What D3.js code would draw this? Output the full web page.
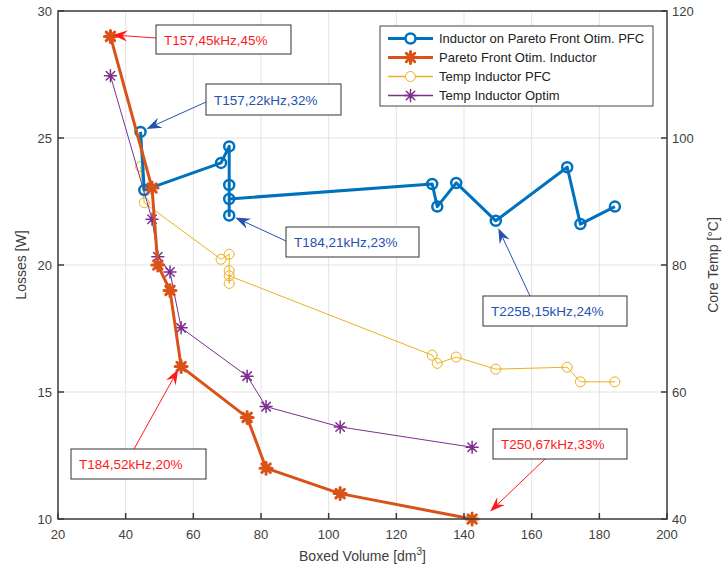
<!DOCTYPE html>
<html><head><meta charset="utf-8">
<script src="https://cdn.jsdelivr.net/npm/d3@7"></script>
<style>
html,body{margin:0;padding:0;background:#fff;}
svg text{font-family:"Liberation Sans",Arial,Helvetica,sans-serif;}
</style></head>
<body>
<svg id="chart" width="725" height="574"></svg>
<script>
// ---------- data ----------
const volumeOptim = [35.5, 47.8, 49.5, 53.1, 56.4, 75.9, 81.5, 103.4, 142.4];
const lossesOptim = [29.0, 23.03, 20.0, 19.0, 16.0, 14.0, 12.0, 11.0, 10.0];
const tempOptim   = [109.8, 87.2, 81.3, 78.9, 70.1, 62.5, 57.7, 54.5, 51.3];

const volumePFC = [44.4, 45.5, 68.2, 70.6, 70.6, 70.6, 70.6, 130.6, 132.1, 137.7, 149.4, 170.5, 174.4, 184.6];
const lossesPFC = [25.24, 22.95, 24.02, 24.67, 23.15, 21.95, 22.6, 23.19, 22.30, 23.23, 21.74, 23.85, 21.61, 22.30];
const tempPFC   = [95.5, 89.8, 80.9, 81.7, 79.1, 77.1, 78.3, 65.8, 64.5, 65.5, 63.6, 63.9, 61.6, 61.6];

const xTicks = [20, 40, 60, 80, 100, 120, 140, 160, 180, 200];
const yLeftTicks = [10, 15, 20, 25, 30];
const yRightTicks = [40, 60, 80, 100, 120];

const seriesNames = ["Inductor on Pareto Front Otim. PFC", "Pareto Front Otim. Inductor", "Temp Inductor PFC", "Temp Inductor Optim"];
const annLabels = ["T157,45kHz,45%", "T157,22kHz,32%", "T184,21kHz,23%", "T225B,15kHz,24%", "T184,52kHz,20%", "T250,67kHz,33%"];
const annSeries = ["optim", "pfc", "pfc", "pfc", "optim", "optim"];
const annIndex  = [0, 0, 5, 10, 4, 8];

// ---------- layout ----------
const L = 58, R = 667, T = 11, B = 519;
const C = {blue:"#0072BD", orange:"#D95319", yellow:"#EDB120", purple:"#7E2F8E",
           axis:"#3a3a3a", grid:"#e3e3e3", red:"#ff1a1a", annBlue:"#2552b0"};
// annotation layout (pixels): box x,y,w,h ; tail point ; tip offset from data point
const annLayout = [
  {bx:156, by:25,  bw:135, bh:29, tx:156, ty:38,  dx:2,  dy:-1.5, color:C.red},
  {bx:206, by:84,  bw:135, bh:31, tx:206, ty:102, dx:6,  dy:-3,   color:C.annBlue},
  {bx:286, by:227, bw:133, bh:30, tx:286, ty:241, dx:6,  dy:2,    color:C.annBlue},
  {bx:483, by:296, bw:144, bh:30, tx:530, ty:296, dx:2.5,dy:7.5,  color:C.annBlue},
  {bx:71,  by:449, bw:135, bh:30, tx:134, ty:449, dx:-3, dy:3,    color:C.red},
  {bx:493, by:429, bw:134, bh:30, tx:545, ty:459, dx:18, dy:-7.5, color:C.red}
];

const svg = d3.select("#chart");
const x = d3.scaleLinear().domain([20, 200]).range([L, R]);
const yL = d3.scaleLinear().domain([10, 30]).range([B, T]);
const yR = d3.scaleLinear().domain([40, 120]).range([B, T]);

// grid
const g = svg.append("g");
g.selectAll(".gx").data(xTicks.slice(1, -1)).join("line")
  .attr("x1", d => x(d)).attr("x2", d => x(d)).attr("y1", T).attr("y2", B)
  .attr("stroke", C.grid).attr("stroke-width", 1);
g.selectAll(".gy").data(yLeftTicks.slice(1, -1)).join("line")
  .attr("y1", d => yL(d)).attr("y2", d => yL(d)).attr("x1", L).attr("x2", R)
  .attr("stroke", C.grid).attr("stroke-width", 1);

// series helpers
function asterisk(r) {
  const d = r * 0.7071;
  return `M${-r},0L${r},0M0,${-r}L0,${r}M${-d},${-d}L${d},${d}M${-d},${d}L${d},${-d}`;
}
function drawSeries(xs, ys, yScale, color, lw, marker, mSize, mLw) {
  const pts = xs.map((v, i) => [x(v), yScale(ys[i])]);
  const grp = svg.append("g");
  grp.append("path").attr("d", d3.line()(pts)).attr("fill", "none")
    .attr("stroke", color).attr("stroke-width", lw).attr("stroke-linejoin", "round");
  grp.selectAll("m").data(pts).join("path")
    .attr("transform", p => `translate(${p[0]},${p[1]})`)
    .attr("d", marker === "o" ? d3.symbol(d3.symbolCircle, Math.PI * mSize * mSize)() : asterisk(mSize))
    .attr("fill", "none").attr("stroke", color).attr("stroke-width", mLw)
    .attr("stroke-linecap", "round");
}
drawSeries(volumePFC, tempPFC, yR, C.yellow, 1, "o", 5, 1);
drawSeries(volumeOptim, tempOptim, yR, C.purple, 1, "*", 6, 1.5);
drawSeries(volumePFC, lossesPFC, yL, C.blue, 3, "o", 5, 2.5);
drawSeries(volumeOptim, lossesOptim, yL, C.orange, 3, "*", 6, 3);

// axes box
const ax = svg.append("g").attr("stroke", C.axis).attr("stroke-width", 1.5).attr("fill", "none");
ax.append("rect").attr("x", L).attr("y", T).attr("width", R - L).attr("height", B - T);
const tl = 6;
ax.selectAll(".tx").data(xTicks).join("line")
  .attr("x1", d => x(d)).attr("x2", d => x(d)).attr("y1", B).attr("y2", B - tl);
ax.selectAll(".ty").data(yLeftTicks).join("line")
  .attr("y1", d => yL(d)).attr("y2", d => yL(d)).attr("x1", L).attr("x2", L + tl);
ax.selectAll(".tr").data(yRightTicks).join("line")
  .attr("y1", d => yR(d)).attr("y2", d => yR(d)).attr("x1", R).attr("x2", R - tl);

const lab = svg.append("g").attr("fill", "#404040").attr("font-size", 13);
lab.selectAll(".lx").data(xTicks).join("text")
  .attr("x", d => x(d)).attr("y", B + 20).attr("text-anchor", "middle").text(d => d);
lab.selectAll(".ly").data(yLeftTicks).join("text")
  .attr("x", L - 6).attr("y", d => yL(d) + 4.5).attr("text-anchor", "end").text(d => d);
lab.selectAll(".lr").data(yRightTicks).join("text")
  .attr("x", R + 5).attr("y", d => yR(d) + 4.5).attr("text-anchor", "start").text(d => d);

const xl = lab.append("text").attr("x", (L + R) / 2).attr("y", 561).attr("text-anchor", "middle").attr("font-size", 14);
xl.append("tspan").text("Boxed Volume [dm");
xl.append("tspan").attr("dy", -6).attr("font-size", 10).text("3");
xl.append("tspan").attr("dy", 6).text("]");
lab.append("text").attr("transform", `translate(26,${(T + B) / 2}) rotate(-90)`)
  .attr("text-anchor", "middle").attr("font-size", 14).text("Losses [W]");
lab.append("text").attr("transform", `translate(718,${(T + B) / 2}) rotate(-90)`)
  .attr("text-anchor", "middle").attr("font-size", 14).text("Core Temp [°C]");

// legend
const lg = svg.append("g");
lg.append("rect").attr("x", 380).attr("y", 26).attr("width", 273).attr("height", 80)
  .attr("fill", "#fff").attr("stroke", "#444").attr("stroke-width", 1);
const legStyle = [
  {color: C.blue, lw: 3, m: "o", ms: 5, mlw: 2.5},
  {color: C.orange, lw: 3, m: "*", ms: 6, mlw: 3},
  {color: C.yellow, lw: 1.5, m: "o", ms: 5, mlw: 1},
  {color: C.purple, lw: 1.5, m: "*", ms: 6, mlw: 1.5}
];
seriesNames.forEach((name, i) => {
  const yy = 38.5 + i * 19;
  const s = legStyle[i];
  lg.append("line").attr("x1", 388).attr("x2", 433).attr("y1", yy).attr("y2", yy)
    .attr("stroke", s.color).attr("stroke-width", s.lw);
  lg.append("path").attr("transform", `translate(410.5,${yy})`)
    .attr("d", s.m === "o" ? d3.symbol(d3.symbolCircle, Math.PI * s.ms * s.ms)() : asterisk(s.ms))
    .attr("fill", s.m === "o" ? "#fff" : "none").attr("stroke", s.color).attr("stroke-width", s.mlw)
    .attr("stroke-linecap", "round");
  lg.append("text").attr("x", 439).attr("y", yy + 4.5).attr("font-size", 13).attr("fill", "#222").text(name);
});

// annotations
annLabels.forEach((txt, i) => {
  const a = annLayout[i];
  const px = x(annSeries[i] === "pfc" ? volumePFC[annIndex[i]] : volumeOptim[annIndex[i]]) + a.dx;
  const py = yL(annSeries[i] === "pfc" ? lossesPFC[annIndex[i]] : lossesOptim[annIndex[i]]) + a.dy;
  const ang = Math.atan2(py - a.ty, px - a.tx);
  const len = 15, half = 5.5, notch = 10;
  const ca = Math.cos(ang), sa = Math.sin(ang);
  const bx = px - len * ca, by = py - len * sa;
  const nx = px - notch * ca, ny = py - notch * sa;
  const gA = svg.append("g");
  gA.append("line").attr("x1", a.tx).attr("y1", a.ty).attr("x2", nx).attr("y2", ny)
    .attr("stroke", a.color).attr("stroke-width", 1);
  gA.append("path")
    .attr("d", `M${px},${py}L${bx - half * sa},${by + half * ca}L${nx},${ny}L${bx + half * sa},${by - half * ca}Z`)
    .attr("fill", a.color);
  gA.append("rect").attr("x", a.bx).attr("y", a.by).attr("width", a.bw).attr("height", a.bh)
    .attr("fill", "#fff").attr("stroke", "#333").attr("stroke-width", 1);
  gA.append("text").attr("x", a.bx + 8).attr("y", a.by + a.bh / 2 + 5)
    .attr("text-anchor", "start").attr("font-size", 13.5).attr("fill", a.color).text(txt);
});
</script>
</body></html>
